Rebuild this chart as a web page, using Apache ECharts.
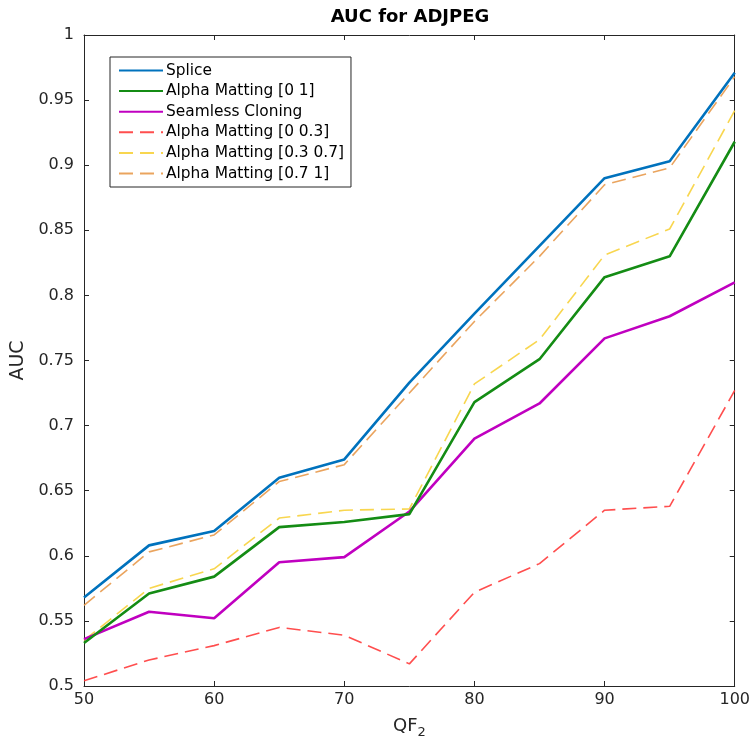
<!DOCTYPE html>
<html>
<head>
<meta charset="utf-8">
<script src="https://cdn.jsdelivr.net/npm/echarts@6/dist/echarts.min.js"></script>
<style>
html,body{margin:0;padding:0;background:#fff;}
#chart{width:753px;height:744px;}
</style>
</head>
<body>
<div id="chart"></div>
<script>
const qf = [50, 55, 60, 65, 70, 75, 80, 85, 90, 95, 100];
const splice        = [0.568, 0.608, 0.619, 0.660, 0.674, 0.733, 0.786, 0.838, 0.890, 0.903, 0.971];
const alphaAll      = [0.533, 0.571, 0.584, 0.622, 0.626, 0.632, 0.718, 0.751, 0.814, 0.830, 0.918];
const seamless      = [0.536, 0.557, 0.552, 0.595, 0.599, 0.634, 0.690, 0.717, 0.767, 0.784, 0.810];
const alphaLow      = [0.504, 0.520, 0.531, 0.545, 0.539, 0.517, 0.572, 0.594, 0.635, 0.638, 0.727];
const alphaMid      = [0.535, 0.575, 0.590, 0.629, 0.635, 0.636, 0.732, 0.766, 0.831, 0.851, 0.942];
const alphaHigh     = [0.562, 0.603, 0.616, 0.657, 0.670, 0.725, 0.780, 0.830, 0.885, 0.898, 0.968];

const names = ['Splice', 'Alpha Matting [0 1]', 'Seamless Cloning', 'Alpha Matting [0 0.3]', 'Alpha Matting [0.3 0.7]', 'Alpha Matting [0.7 1]'];
const values = [splice, alphaAll, seamless, alphaLow, alphaMid, alphaHigh];
const colors = ['#0072bd', '#148c14', '#c000c0', '#ff3b3b', '#f7d23c', '#e89a4c'];
const dashed = [false, false, false, true, true, true];

const FONT = 'DejaVu Sans';
const AX = '#262626';

const series = names.map((n, i) => ({
  name: n,
  type: 'line',
  symbol: 'none',
  animation: false,
  data: qf.map((x, j) => [x, values[i][j]]),
  lineStyle: {
    color: colors[i],
    width: dashed[i] ? 1.6 : 2.6,
    type: dashed[i] ? [14, 7] : 'solid',
    opacity: dashed[i] ? 0.9 : 1
  },
  itemStyle: { color: colors[i] },
  z: 10 - i
}));

const chart = echarts.init(document.getElementById('chart'), null, { renderer: 'canvas' });
chart.setOption({
  backgroundColor: '#fff',
  animation: false,
  title: {
    text: 'AUC for ADJPEG',
    left: 410,
    textAlign: 'center',
    top: 8,
    padding: 0,
    textStyle: { fontFamily: FONT, fontSize: 18, fontWeight: 'bold', color: '#000' }
  },
  legend: {
    orient: 'vertical',
    left: 110,
    top: 57,
    padding: [6, 7, 6, 8],
    itemWidth: 44,
    itemHeight: 14,
    itemGap: 5.6,
    backgroundColor: '#fff',
    borderColor: '#262626',
    borderWidth: 1,
    borderRadius: 0,
    selectedMode: false,
    itemStyle: { opacity: 0 },
    textStyle: { fontFamily: FONT, fontSize: 15.4, color: '#000', padding: [0, 0, 0, -2] },
    data: names
  },
  grid: { left: 84, right: 17, top: 35, bottom: 58, containLabel: false },
  xAxis: [{
    type: 'value', min: 50, max: 100, interval: 10,
    name: 'QF{s|2}', nameLocation: 'middle', nameGap: 28,
    nameTextStyle: {
      fontFamily: FONT, fontSize: 18, color: AX,
      rich: { s: { fontFamily: FONT, fontSize: 13, color: AX, verticalAlign: 'bottom', padding: [12, 0, 0, 0] } }
    },
    axisLine: { show: true, onZero: false, lineStyle: { color: AX, width: 1 } },
    axisTick: { show: true, inside: true, length: 5, lineStyle: { color: AX } },
    axisLabel: { fontFamily: FONT, fontSize: 16, color: AX, margin: 6 },
    splitLine: { show: false }
  }, {
    type: 'value', position: 'top', min: 50, max: 100, interval: 10,
    axisLine: { show: true, onZero: false, lineStyle: { color: AX, width: 1 } },
    axisTick: { show: true, inside: true, length: 5, lineStyle: { color: AX } },
    axisLabel: { show: false },
    splitLine: { show: false }
  }],
  yAxis: [{
    type: 'value', min: 0.5, max: 1, interval: 0.05,
    name: 'AUC', nameLocation: 'middle', nameGap: 51,
    nameTextStyle: { fontFamily: FONT, fontSize: 19, color: AX },
    axisLine: { show: true, onZero: false, lineStyle: { color: AX, width: 1 } },
    axisTick: { show: true, inside: true, length: 5, lineStyle: { color: AX } },
    axisLabel: { fontFamily: FONT, fontSize: 16, color: AX, margin: 10,
      formatter: v => String(Math.round(v * 100) / 100) },
    splitLine: { show: false }
  }, {
    type: 'value', position: 'right', min: 0.5, max: 1, interval: 0.05,
    axisLine: { show: true, onZero: false, lineStyle: { color: AX, width: 1 } },
    axisTick: { show: true, inside: true, length: 5, lineStyle: { color: AX } },
    axisLabel: { show: false },
    splitLine: { show: false }
  }],
  series: series
});
</script>
</body>
</html>
